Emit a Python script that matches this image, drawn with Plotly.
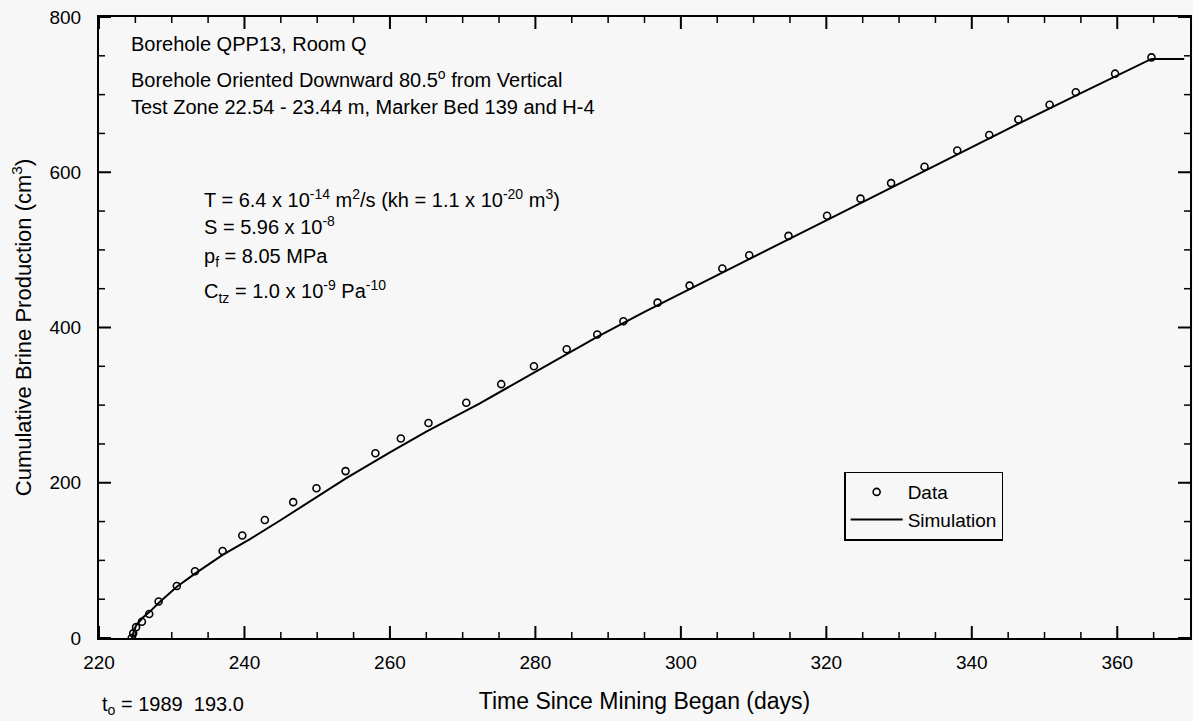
import plotly.graph_objects as go

# Measured cumulative brine production, borehole QPP13
days_data = [224.5, 224.7, 225.1, 225.9, 226.9, 228.2, 230.7, 233.2, 237.0, 239.7,
             242.8, 246.7, 249.9, 253.9, 258.0, 261.5, 265.3, 270.5, 275.3, 279.8,
             284.3, 288.5, 292.1, 296.8, 301.2, 305.7, 309.4, 314.8, 320.1, 324.7,
             328.9, 333.5, 338.0, 342.4, 346.4, 350.7, 354.3, 359.7, 364.7]
brine_data = [0, 6, 14, 21, 31, 47, 67, 86, 112, 132,
              152, 175, 193, 215, 238, 257, 277, 303, 327, 350,
              372, 391, 408, 432, 454, 476, 493, 518, 544, 566,
              586, 607, 628, 648, 668, 687, 703, 727, 748]

# Simulated cumulative brine production
days_sim = [224.5, 224.6, 224.8, 225.1, 225.5, 226.0, 227.0, 228.2, 230.7, 233.2,
            237.0, 240.7, 245.0, 250.0, 254.0, 260.0, 265.0, 272.3, 280.0, 288.5,
            295.0, 302.5, 310.0, 320.0, 328.0, 336.8, 345.0, 355.0, 364.7, 369.2]
brine_sim = [0, 4, 9, 16, 21, 26, 34, 45, 66, 83,
             107, 127, 152, 182, 206, 239, 266, 302, 343, 388,
             420, 455, 491, 538, 576, 618, 656, 702, 746, 746]

x_ticks = [220, 240, 260, 280, 300, 320, 340, 360]
y_ticks = [0, 200, 400, 600, 800]
x_minor_ticks = [v for v in range(225, 370, 5) if v not in x_ticks]
y_minor_ticks = [v for v in range(50, 800, 50) if v not in y_ticks]

X_RANGE = [220, 370]
Y_RANGE = [0, 800]

FONT = "Liberation Sans, Arial, sans-serif"
BG = "#f7f7f7"
W, H = 1193, 721
MARGIN = dict(l=99, r=1, t=17, b=83)
MAJOR_LEN, MINOR_LEN = 12, 6  # tick lengths in pixels

fig = go.Figure()
fig.add_trace(go.Scatter(
    x=days_data, y=brine_data, mode="markers", name="Data",
    marker=dict(symbol="circle-open", size=7, color="black", line=dict(width=1.6, color="black")),
))
fig.add_trace(go.Scatter(
    x=days_sim, y=brine_sim, mode="lines", name="Simulation",
    line=dict(color="black", width=2),
))

# Inward tick marks on all four sides, built as line segments in axis units
plot_w = W - MARGIN["l"] - MARGIN["r"]
plot_h = H - MARGIN["t"] - MARGIN["b"]
x_per_px = (X_RANGE[1] - X_RANGE[0]) / plot_w
y_per_px = (Y_RANGE[1] - Y_RANGE[0]) / plot_h

def tick_segments(xvals, yvals, length):
    xs, ys = [], []
    dy = length * y_per_px
    dx = length * x_per_px
    for v in xvals:
        xs += [v, v, None, v, v, None]
        ys += [Y_RANGE[0], Y_RANGE[0] + dy, None, Y_RANGE[1], Y_RANGE[1] - dy, None]
    for v in yvals:
        xs += [X_RANGE[0], X_RANGE[0] + dx, None, X_RANGE[1], X_RANGE[1] - dx, None]
        ys += [v, v, None, v, v, None]
    return xs, ys

for xv, yv, length, width in ((x_ticks, y_ticks, MAJOR_LEN, 2),
                              (x_minor_ticks, y_minor_ticks, MINOR_LEN, 1.5)):
    tx, ty = tick_segments(xv, yv, length)
    fig.add_trace(go.Scatter(
        x=tx, y=ty, mode="lines", showlegend=False, hoverinfo="skip",
        line=dict(color="black", width=width), connectgaps=False, cliponaxis=False,
    ))

fig.update_xaxes(
    range=X_RANGE, tickvals=x_ticks, ticks="", ticklabelstandoff=6,
    showline=True, linecolor="black", linewidth=2, mirror=True,
    showgrid=False, zeroline=False,
    tickfont=dict(family=FONT, size=19, color="black"),
    title=dict(text="Time Since Mining Began (days)", font=dict(family=FONT, size=23, color="black"), standoff=21),
)
fig.update_yaxes(
    range=Y_RANGE, tickvals=y_ticks, ticks="", ticklabelstandoff=12,
    showline=True, linecolor="black", linewidth=2, mirror=True,
    showgrid=False, zeroline=False,
    tickfont=dict(family=FONT, size=19, color="black"),
    title=dict(text="Cumulative Brine Production (cm<sup>3</sup>)", font=dict(family=FONT, size=22, color="black"), standoff=12),
)

ann_font = dict(family=FONT, size=20, color="black")
notes = [
    (0.0274, 0.9565, "Borehole QPP13, Room Q"),
    (0.0274, 0.9010, "Borehole Oriented Downward 80.5<sup>o</sup> from Vertical"),
    (0.0274, 0.8550, "Test Zone 22.54 - 23.44 m, Marker Bed 139 and H-4"),
    (0.0942, 0.7070, "T = 6.4 x 10<sup>-14</sup> m<sup>2</sup>/s (kh = 1.1 x 10<sup>-20</sup> m<sup>3</sup>)"),
    (0.0942, 0.6640, "S = 5.96 x 10<sup>-8</sup>"),
    (0.0942, 0.6120, "p<sub>f</sub> = 8.05 MPa"),
    (0.0942, 0.5580, "C<sub>tz</sub> = 1.0 x 10<sup>-9</sup> Pa<sup>-10</sup>"),
    (0.0010, -0.1080, "t<sub>o</sub> = 1989\u00a0\u00a0193.0"),
]
for x, y, txt in notes:
    fig.add_annotation(x=x, y=y, xref="paper", yref="paper", text=txt, showarrow=False,
                       xanchor="left", yanchor="middle", font=ann_font, align="left")

fig.update_layout(
    width=W, height=H,
    margin=MARGIN,
    paper_bgcolor=BG, plot_bgcolor=BG,
    font=dict(family=FONT, color="black"),
    legend=dict(
        x=0.683, y=0.268, xanchor="left", yanchor="top",
        bgcolor=BG, bordercolor="black", borderwidth=1.5,
        font=dict(family=FONT, size=19, color="black"),
        itemwidth=52, tracegroupgap=0,
    ),
)

fig.write_html("out.html")
